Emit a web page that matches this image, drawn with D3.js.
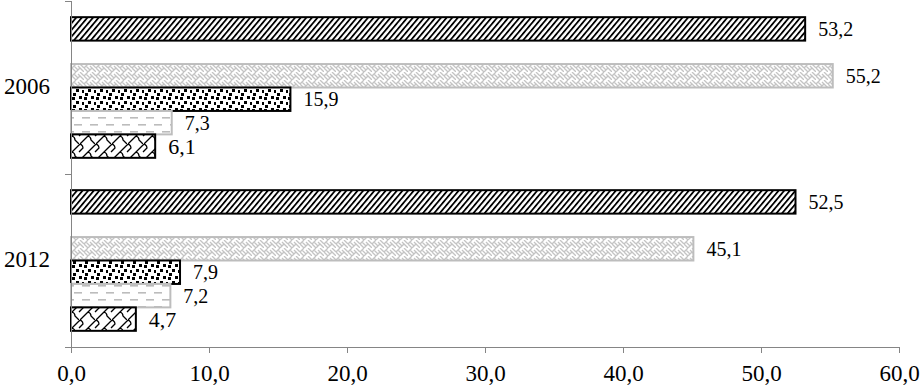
<!DOCTYPE html>
<html lang="en">
  <head>
    <meta charset="UTF-8" />
    <title>2006 / 2012</title>
    <script src="https://d3js.org/d3.v7.min.js"></script>
    <style>
      body {
        margin: 0;
        background-color: white;
      }
      svg {
        display: block;
        font-family: "Liberation Serif", "Times New Roman", serif;
      }
      .axis path,
      .axis line {
        stroke: #858585;
        stroke-width: 1;
      }
    </style>
  </head>
  <body>
    <svg width="921" height="389"></svg>

    <script>
      // categories (top to bottom) and series, in slot order inside each category
      const years = ["2006", "2012"];
      const series1 = [53.2, 52.5];
      const series2 = [null, null]; // empty slot
      const series3 = [55.2, 45.1];
      const series4 = [15.9, 7.9];
      const series5 = [7.3, 7.2];
      const series6 = [6.1, 4.7];
      const xTicks = [0, 10, 20, 30, 40, 50, 60];

      const allSeries = [series1, series2, series3, series4, series5, series6];

      const plotLeft = 71, plotRight = 899, plotTop = 1, plotBottom = 347;

      const svg = d3.select("svg");
      const defs = svg.append("defs");

      // --- fill patterns ---
      const diag = defs.append("pattern").attr("id", "p-diag")
        .attr("patternUnits", "userSpaceOnUse")
        .attr("width", 4.3).attr("height", 10)
        .attr("patternTransform", "rotate(40)");
      diag.append("rect").attr("width", 4.3).attr("height", 10).attr("fill", "white");
      diag.append("rect").attr("width", 1.8).attr("height", 10).attr("fill", "black");

      const weave = defs.append("pattern").attr("id", "p-weave")
        .attr("patternUnits", "userSpaceOnUse")
        .attr("width", 12).attr("height", 8);
      weave.append("rect").attr("width", 12).attr("height", 8).attr("fill", "white");
      weave.append("path")
        .attr("d", "M0,4 L4,0 M4,8 L8,4 L12,8 M8,0 L12,4 M0,4 L4,8 M2,2 L6,6 M6,2 L10,6")
        .attr("stroke", "#c4c4c4").attr("stroke-width", 1.3).attr("fill", "none");

      const confetti = defs.append("pattern").attr("id", "p-confetti")
        .attr("patternUnits", "userSpaceOnUse")
        .attr("width", 12).attr("height", 12);
      confetti.append("rect").attr("width", 12).attr("height", 12).attr("fill", "white");
      [[0, 1], [7, 0], [4, 5], [10, 6], [1, 9]].forEach(([px, py]) => {
        confetti.append("rect").attr("x", px).attr("y", py)
          .attr("width", 3).attr("height", 3).attr("fill", "black");
      });

      const dashes = defs.append("pattern").attr("id", "p-dash")
        .attr("patternUnits", "userSpaceOnUse")
        .attr("width", 16).attr("height", 14);
      dashes.append("rect").attr("width", 16).attr("height", 14).attr("fill", "white");
      dashes.append("rect").attr("x", 2).attr("y", 5).attr("width", 8).attr("height", 1.6).attr("fill", "#bcbcbc");
      dashes.append("rect").attr("x", 10).attr("y", 12).attr("width", 8).attr("height", 1.6).attr("fill", "#bcbcbc");
      dashes.append("rect").attr("x", -6).attr("y", 12).attr("width", 8).attr("height", 1.6).attr("fill", "#bcbcbc");

      const zig = defs.append("pattern").attr("id", "p-zig")
        .attr("patternUnits", "userSpaceOnUse")
        .attr("width", 16).attr("height", 16);
      zig.append("rect").attr("width", 16).attr("height", 16).attr("fill", "white");
      zig.append("path")
        .attr("d", "M0,16 L16,0 M8,8 Q11,9 11,12 L15,16 M0,0 Q3,1 3,4 L-1,8 M16,0 Q19,1 19,4 L15,8")
        .attr("stroke", "black").attr("stroke-width", 1.3).attr("fill", "none");

      const fills = ["url(#p-diag)", null, "url(#p-weave)", "url(#p-confetti)", "url(#p-dash)", "url(#p-zig)"];
      const strokes = ["black", null, "#bdbdbd", "black", "#bdbdbd", "black"];
      const labelSizes = [20, 20, 20, 20, 20, 22];

      // --- scales ---
      const x = d3.scaleLinear().domain([0, 60]).range([plotLeft, plotRight]);
      const y0 = d3.scaleBand().domain(years).range([plotTop, plotBottom]).padding(0);
      const y1 = d3.scaleBand().domain(d3.range(allSeries.length))
        .range([0, y0.bandwidth()]).paddingInner(0).paddingOuter(0.69);

      const rows = [];
      years.forEach((yr, ci) => {
        allSeries.forEach((s, si) => {
          if (s[ci] != null) rows.push({ year: yr, si: si, value: s[ci] });
        });
      });

      const bars = svg.append("g");
      bars.selectAll("rect")
        .data(rows)
        .join("rect")
        .attr("x", x(0))
        .attr("y", (d) => y0(d.year) + y1(d.si))
        .attr("width", (d) => x(d.value) - x(0))
        .attr("height", y1.bandwidth())
        .attr("fill", (d) => fills[d.si])
        .attr("stroke", (d) => strokes[d.si])
        .attr("stroke-width", 2);

      bars.selectAll("text")
        .data(rows)
        .join("text")
        .attr("x", (d) => x(d.value) + 13)
        .attr("y", (d) => y0(d.year) + y1(d.si) + y1.bandwidth() / 2)
        .attr("dy", "0.35em")
        .attr("font-size", (d) => labelSizes[d.si] + "px")
        .attr("fill", "black")
        .text((d) => d.value.toFixed(1).replace(".", ","));

      // --- x axis ---
      const xAxis = svg.append("g")
        .attr("class", "axis")
        .attr("transform", `translate(0,${plotBottom})`)
        .call(d3.axisBottom(x).tickValues(xTicks).tickSize(6).tickSizeOuter(0)
          .tickFormat((d) => d.toFixed(1).replace(".", ",")));
      xAxis.attr("font-family", null).attr("font-size", null);
      xAxis.select(".domain").attr("d", `M${plotLeft - 5},0.5H${plotRight}`);
      xAxis.selectAll("text")
        .attr("font-size", "23px")
        .attr("fill", "black")
        .attr("y", 18);

      // --- y axis ---
      const yAxis = svg.append("g").attr("class", "axis");
      yAxis.append("line")
        .attr("x1", plotLeft + 0.5).attr("x2", plotLeft + 0.5)
        .attr("y1", plotTop).attr("y2", plotBottom);
      const bounds = years.map((d) => y0(d)).concat([plotBottom]);
      yAxis.selectAll(".tk")
        .data(bounds)
        .join("line")
        .attr("class", "tk")
        .attr("x1", plotLeft - 6).attr("x2", plotLeft)
        .attr("y1", (d) => Math.round(d) + 0.5).attr("y2", (d) => Math.round(d) + 0.5);

      svg.append("g").selectAll("text")
        .data(years)
        .join("text")
        .attr("x", 50)
        .attr("y", (d) => y0(d) + y0.bandwidth() / 2 - 2)
        .attr("dy", "0.35em")
        .attr("text-anchor", "end")
        .attr("font-size", "23px")
        .attr("fill", "black")
        .text((d) => d);
    </script>
  </body>
</html>
